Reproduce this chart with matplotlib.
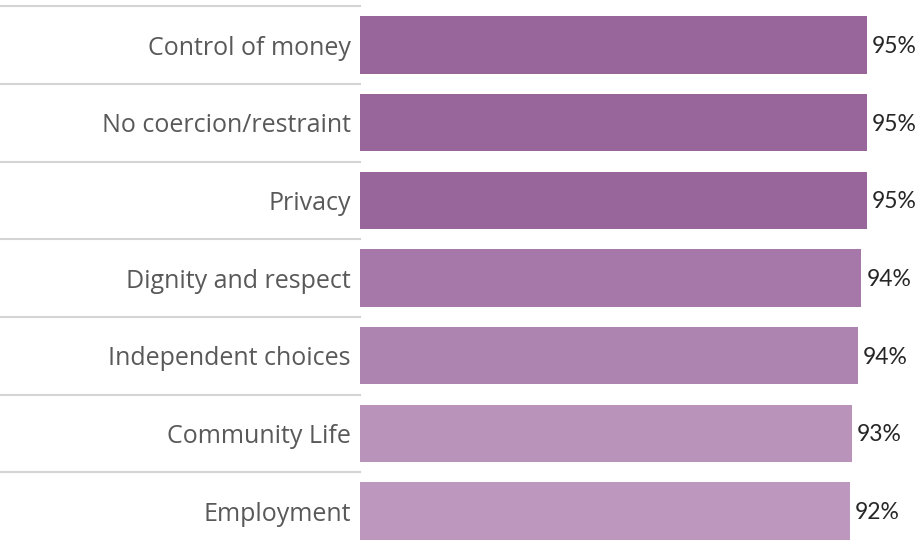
import matplotlib
matplotlib.use('Agg')
import matplotlib.pyplot as plt
from matplotlib.lines import Line2D

# data
categories = ['Control of money', 'No coercion/restraint', 'Privacy',
              'Dignity and respect', 'Independent choices', 'Community Life', 'Employment']
values = [95.0, 95.0, 95.0, 93.9, 93.3, 92.2, 91.8]
pct_labels = ['95%', '95%', '95%', '94%', '94%', '93%', '92%']
colors = ['#98669A', '#98669A', '#98669A', '#A678A9', '#AD83AF', '#BA93BB', '#BD97BE']

fig = plt.figure(figsize=(9.22, 5.46), dpi=100)
ax = fig.add_axes([360 / 922, 0, 562 / 922, 1])

ypos = list(range(len(categories)))
ax.barh(ypos, values, height=0.74, color=colors)

ax.set_xlim(0, 562 / 5.335)
ax.set_ylim(6.45, -0.58)

# value labels
for y, v, lab in zip(ypos, values, pct_labels):
    ax.text(v + 1.0, y + 0.02, lab, va='center', ha='left', fontsize=16.5,
            family='Lato', color='#262626')

# category labels
ax.set_yticks(ypos)
ax.set_yticklabels(categories, fontsize=18, family='Open Sans', color='#595959')
ax.tick_params(axis='y', length=0, pad=6.5)
ax.set_xticks([])
for s in ax.spines.values():
    s.set_visible(False)

# separator lines in the label area
for b in [-0.5, 0.5, 1.5, 2.5, 3.5, 4.5, 5.5]:
    ax.add_line(Line2D([-360 / 562, 0], [b, b], transform=ax.get_yaxis_transform(),
                       color='#D4D4D4', linewidth=1.5, clip_on=False))

plt.savefig('out.png', dpi=100)
